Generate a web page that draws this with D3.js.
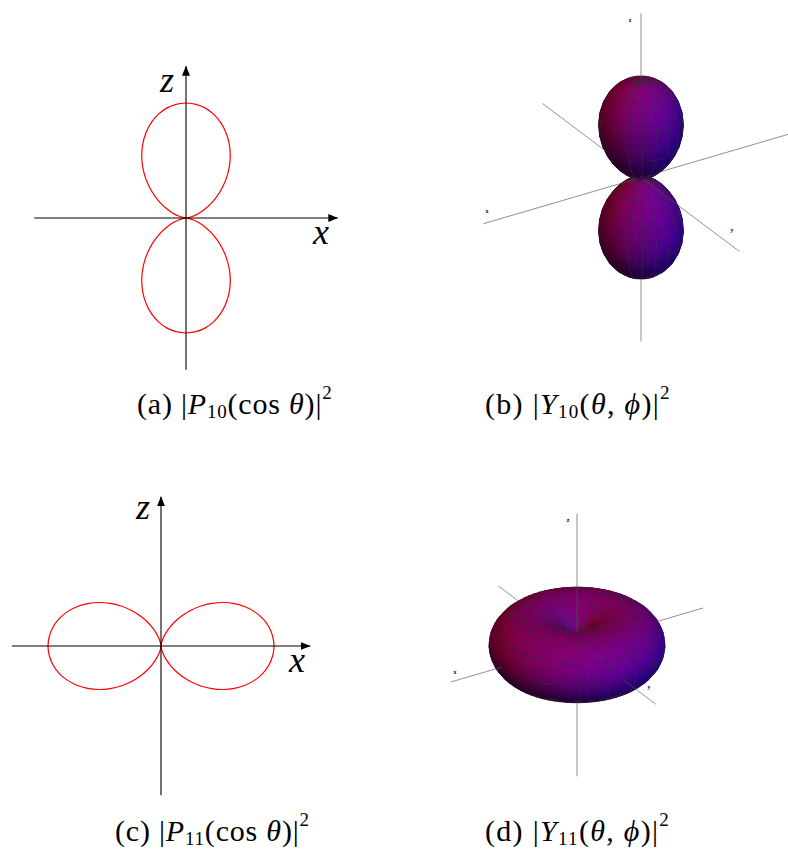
<!DOCTYPE html>
<html lang="en">
<head>
<meta charset="UTF-8">
<title>Angular distributions</title>
<script src="https://d3js.org/d3.v7.min.js"></script>
<style>
    html, body { margin: 0; background: #fff; }
    svg { display: block; }
    text { font-family: "Liberation Serif", serif; fill: #000; }
</style>
</head>
<body>
<svg width="788" height="849"></svg>
<script>
// polar angle samples, degrees, pole to equator
const thetaDeg = [0,5,10,15,20,25,30,35,40,45,50,55,60,65,70,75,80,85,90];
// lobe radius read at those angles
const p10Radius = [1,.992,.97,.933,.883,.821,.75,.671,.587,.5,.413,.329,.25,.179,.117,.067,.03,.008,0];
const p11Radius = [0,.008,.03,.067,.117,.179,.25,.329,.413,.5,.587,.671,.75,.821,.883,.933,.97,.992,1];
const axisExtent = [-1.32, 1.32];
const surfaceAxisExtent = [-1.69, 1.69];
const captionA = [["(a) ",""],["|",""],["P","i"],["10","sub"],["(cos ",""],["θ","i"],[")|",""],["2","sup"]];
const captionB = [["(b) ",""],["|",""],["Y","i"],["10","sub"],["(",""],["θ","i"],[", ",""],["ϕ","i"],[")|",""],["2","sup"]];
const captionC = [["(c) ",""],["|",""],["P","i"],["11","sub"],["(cos ",""],["θ","i"],[")|",""],["2","sup"]];
const captionD = [["(d) ",""],["|",""],["Y","i"],["11","sub"],["(",""],["θ","i"],[", ",""],["ϕ","i"],[")|",""],["2","sup"]];

var svg = d3.select("svg");
var defs = svg.append("defs");
defs.append("marker").attr("id", "arrow")
    .attr("viewBox", "0 0 10 8").attr("refX", 9.5).attr("refY", 4)
    .attr("markerWidth", 10).attr("markerHeight", 8).attr("markerUnits", "userSpaceOnUse")
    .attr("orient", "auto")
    .append("path").attr("d", "M0 0 L10 4 L0 8 Z").attr("fill", "#000");
defs.append("filter").attr("id", "soft")
    .attr("x", "-5%").attr("y", "-5%").attr("width", "110%").attr("height", "110%")
    .append("feGaussianBlur").attr("stdDeviation", 2.2);

// full profile, pole to pole
function fullProfile(radius) {
    var rows = thetaDeg.map((t, i) => ({t: t, r: radius[i]}));
    var back = thetaDeg.slice(0, -1).reverse().map(t => ({t: 180 - t, r: radius[thetaDeg.indexOf(t)]}));
    return rows.concat(back);
}

// 2D polar plot
function polarPlot(cx, cy, size, radius, xPos, zPos) {
    var x = d3.scaleLinear().domain([0, 1]).range([cx, cx + size]);
    var y = d3.scaleLinear().domain([0, 1]).range([cy, cy - size]);
    var g = svg.append("g");
    var prof = fullProfile(radius);
    var pts = prof.map(d => [d.r * Math.sin(d.t * Math.PI / 180), d.r * Math.cos(d.t * Math.PI / 180)]);
    var line = d3.line().x(d => x(d[0])).y(d => y(d[1])).curve(d3.curveCatmullRom);
    g.append("path").attr("d", line(pts)).attr("fill", "none").attr("stroke", "#f00").attr("stroke-width", 1.2);
    g.append("path").attr("d", line(pts.map(d => [-d[0], d[1]]))).attr("fill", "none").attr("stroke", "#f00").attr("stroke-width", 1.2);
    g.append("line").attr("x1", x(axisExtent[0])).attr("x2", x(axisExtent[1])).attr("y1", cy).attr("y2", cy)
        .attr("stroke", "#000").attr("stroke-width", 1.1).attr("marker-end", "url(#arrow)");
    g.append("line").attr("x1", cx).attr("x2", cx).attr("y1", y(axisExtent[0])).attr("y2", y(axisExtent[1]))
        .attr("stroke", "#000").attr("stroke-width", 1.1).attr("marker-end", "url(#arrow)");
    g.append("text").attr("x", xPos[0]).attr("y", xPos[1]).attr("text-anchor", "middle")
        .attr("font-size", 36).attr("font-style", "italic").text("x");
    g.append("text").attr("x", zPos[0]).attr("y", zPos[1]).attr("text-anchor", "middle")
        .attr("font-size", 36).attr("font-style", "italic").text("z");
}

// 3D view, orthographic
var az = 32 * Math.PI / 180, el = 28 * Math.PI / 180;
var ca = Math.cos(az), sa = Math.sin(az), ce = Math.cos(el), se = Math.sin(el);
var right = [-ca, sa, 0], up = [-se * sa, -se * ca, ce], toCam = [sa * ce, ca * ce, se];
// lights in view space: right, up, towards camera
var lightRed = [-0.15, 0.5, 0.85], lightBlue = [0.6, 0.1, 0.8];
function dot(a, b) { return a[0] * b[0] + a[1] * b[1] + a[2] * b[2]; }
function cross(a, b) { return [a[1]*b[2]-a[2]*b[1], a[2]*b[0]-a[0]*b[2], a[0]*b[1]-a[1]*b[0]]; }
function sub(a, b) { return [a[0]-b[0], a[1]-b[1], a[2]-b[2]]; }

function surfacePlot(cx, cy, size, radius, labels, clipId) {
    var s = d3.scaleLinear().domain([0, 1]).range([0, size]);
    function project(p) { return [cx + s(dot(p, right)), cy - s(dot(p, up))]; }
    var prof = fullProfile(radius);
    var phis = d3.range(0, 361, 5);
    var verts = prof.map(d => phis.map(f => {
        var t = d.t * Math.PI / 180, a = f * Math.PI / 180;
        return [d.r * Math.sin(t) * Math.cos(a), d.r * Math.sin(t) * Math.sin(a), d.r * Math.cos(t)];
    }));
    var cells = [];
    for (var i = 0; i < prof.length - 1; i++) {
        for (var j = 0; j < phis.length - 1; j++) {
            var q = [verts[i][j], verts[i][j+1], verts[i+1][j+1], verts[i+1][j]];
            var n = cross(sub(q[2], q[0]), sub(q[3], q[1]));
            var len = Math.hypot(n[0], n[1], n[2]);
            if (len < 1e-9) continue;
            n = n.map(v => v / len);
            var c = [0, 1, 2].map(k => d3.mean(q, v => v[k]));
            if (dot(n, c) < 0) n = n.map(v => -v);
            if (dot(n, toCam) <= 0) continue;
            var nv = [dot(n, right), dot(n, up), dot(n, toCam)];
            var lr = Math.max(0, dot(nv, lightRed)), lb = Math.max(0, dot(nv, lightBlue));
            cells.push({
                poly: q.map(project),
                depth: dot(c, toCam),
                fill: d3.rgb(35 + 95 * lr, 4, 38 + 110 * lb) + ""
            });
        }
    }
    cells.sort((a, b) => a.depth - b.depth);

    function hidden(p) {
        var d = dot(p, toCam) + 0.004, sp = project(p);
        return cells.some(c => c.depth > d && d3.polygonContains(c.poly, sp));
    }
    function isFront(m) {
        var sp = project(m), d = dot(m, toCam);
        return cells.some(c => Math.abs(c.depth - d) < 0.09 && d3.polygonContains(c.poly, sp));
    }
    var toPath = d3.line();
    function cellLayer(parent) {
        parent.selectAll("path").data(cells).join("path")
            .attr("d", d => toPath(d.poly) + "Z")
            .attr("fill", d => d.fill).attr("stroke", d => d.fill).attr("stroke-width", 0.7);
    }
    var g = svg.append("g");

    // axes, drawn piece by piece where the surface does not hide them
    var axisPaths = "";
    [[1,0,0],[0,1,0],[0,0,1]].forEach(dir => {
        d3.range(0, 120).forEach(k => {
            var span = surfaceAxisExtent[1] - surfaceAxisExtent[0];
            var a = surfaceAxisExtent[0] + span * k / 120, b = surfaceAxisExtent[0] + span * (k + 1) / 120;
            var mid = dir.map(v => v * (a + b) / 2);
            if (hidden(mid)) return;
            axisPaths += toPath([project(dir.map(v => v * a)), project(dir.map(v => v * b))]);
        });
    });

    cellLayer(g.append("g"));
    defs.append("clipPath").attr("id", clipId).selectAll("path").data(cells).join("path")
        .attr("d", d => toPath(d.poly) + "Z");
    cellLayer(g.append("g").attr("clip-path", "url(#" + clipId + ")").append("g").attr("filter", "url(#soft)"));

    // grid lines every 20 deg around and 15 deg down
    var grid = "";
    function addSeg(a, b) {
        var m = [0, 1, 2].map(k => (a[k] + b[k]) / 2);
        if (!hidden(m) && isFront(m)) grid += toPath([project(a), project(b)]);
    }
    phis.forEach((f, j) => {
        if (f % 20 != 0 || f == 360) return;
        for (var i = 0; i < prof.length - 1; i++) addSeg(verts[i][j], verts[i+1][j]);
    });
    prof.forEach((d, i) => {
        if (d.t % 15 != 0 || d.t == 0 || d.t == 180) return;
        for (var j = 0; j < phis.length - 1; j++) addSeg(verts[i][j], verts[i][j+1]);
    });
    g.append("path").attr("d", grid).attr("fill", "none")
        .attr("stroke", "#303030").attr("stroke-opacity", 0.8).attr("stroke-width", 0.7);
    g.append("path").attr("d", axisPaths).attr("fill", "none")
        .attr("stroke", "#555").attr("stroke-opacity", 0.75).attr("stroke-width", 0.9);

    labels.forEach(l => {
        g.append("text").attr("x", l[1]).attr("y", l[2]).attr("text-anchor", "middle")
            .attr("font-size", 6).attr("font-weight", "bold").attr("font-family", "DejaVu Sans").text(l[0]);
    });
}

function caption(x, y, parts, spacing) {
    var t = svg.append("text").attr("x", x).attr("y", y).attr("font-size", 30)
        .attr("letter-spacing", spacing).attr("xml:space", "preserve");
    var shift = 0;
    parts.forEach(p => {
        var ts = t.append("tspan").text(p[0]);
        var target = p[1] == "sub" ? 4 : p[1] == "sup" ? -15 : 0;
        if (target != shift) { ts.attr("dy", target - shift); shift = target; }
        if (p[1] == "i") ts.attr("font-style", "italic");
        if (p[1] == "sub" || p[1] == "sup") ts.attr("font-size", 19);
    });
}

polarPlot(186, 218, 115, p10Radius, [321, 244], [167, 92]);
polarPlot(161, 646, 113, p11Radius, [297, 672], [143, 519]);
surfacePlot(641, 177.5, 110, p10Radius, [["x", 487, 213], ["y", 732, 232], ["z", 630, 22]], "clipB");
surfacePlot(577, 645, 88, p11Radius, [["x", 455, 674], ["y", 649, 689], ["z", 568, 522]], "clipD");

caption(137, 414, captionA, 0.8);
caption(485, 414, captionB, 1.3);
caption(115, 841, captionC, 0.8);
caption(485, 841, captionD, 1.3);
</script>
</body>
</html>
